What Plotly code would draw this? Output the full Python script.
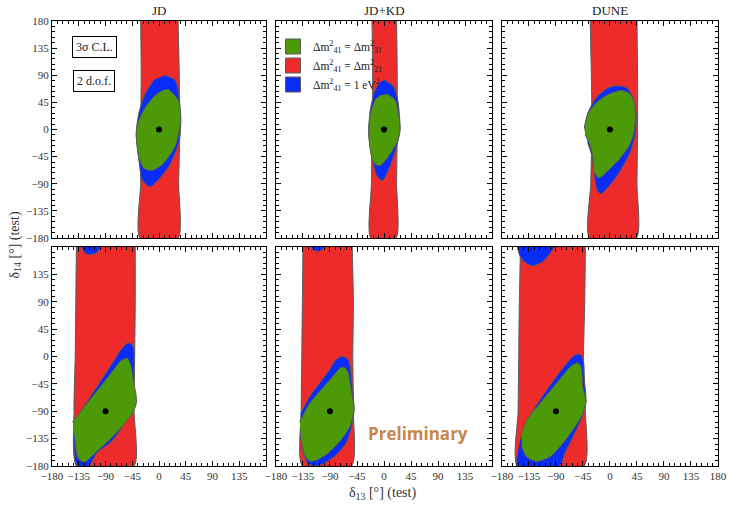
import plotly.graph_objects as go

# ---------------- data ----------------
panel_titles = ["JD", "JD+KD", "DUNE"]
tick_vals = [-180, -135, -90, -45, 0, 45, 90, 135, 180]
tick_text = ["−180", "−135", "−90", "−45", "0", "45", "90", "135", "180"]
tick_text_no_top = ["−180", "−135", "−90", "−45", "0", "45", "90", "135", " "]

legend_labels = ["Δm<sup>2</sup><sub>41</sub> = Δm<sup>2</sup><sub>31</sub>",
                 "Δm<sup>2</sup><sub>41</sub> = Δm<sup>2</sup><sub>21</sub>",
                 "Δm<sup>2</sup><sub>41</sub> = 1 eV<sup>2</sup>"]
box_labels = ["3σ C.L.", "2 d.o.f."]
watermark = "Preliminary"

true_top = (0, 0)
true_bottom = (-90, -90)

# red bands: edge x-values at these y-levels
band_y = [180, 90, 0, -90, -180]
jd_a_red_left = [-31, -30, -31, -31, -32]
jd_a_red_right = [32, 34, 35, 33, 32]
jdkd_a_red_left = [-20, -19, -20, -21, -22]
jdkd_a_red_right = [21, 22, 22, 21, 20]
dune_a_red_left = [-33, -31, -30, -32, -34]
dune_a_red_right = [45, 46, 46, 45, 44]
jd_b_red_left = [-139, -140, -141, -143, -138]
jd_b_red_right = [-40, -40, -41, -42, -42]
jdkd_b_red_left = [-135, -136, -137, -138, -136]
jdkd_b_red_right = [-53, -51, -52, -51, -54]
dune_b_red_left = [-149, -151, -152, -153, -154]
dune_b_red_right = [-41, -42, -44, -41, -43]

# ---- JD, true (0,0)
jd_a_blue_x = [10, 27, 32, 35, 36.5, 33, 16, -15, -28, -34, -38.4, -34, -23, -9]
jd_a_blue_y = [90, 82, 65.5, 38, 10, -23, -62, -95, -84, -50, -6, 27, 60, 82]
jd_a_green_x = [15.6, 32, 36.5, 26.7, 4.7, -12, -25.6, -34, -38.3, -34, -23, -6.3, 7.4]
jd_a_green_y = [67, 49, 16, -28.5, -59, -68, -64.5, -45, -6.5, 15, 37, 57, 65.5]

# ---- JD+KD, true (0,0)
jdkd_a_blue_x = [0.3, 15.6, 22.8, 26.6, 21, 10, -2.4, -11.8, -19, -25.5, -22.8, -14.5, -8]
jdkd_a_blue_y = [82.4, 71.4, 49.3, 0, -27.8, -61, -84.6, -77.5, -50, -5.8, 32.8, 65.9, 77]
jdkd_a_green_x = [4.7, 18.4, 23.9, 26.6, 21, 7.4, -6.3, -14.5, -21, -25.5, -22.8, -14.5, -6.3]
jdkd_a_green_y = [58.7, 49.3, 27.3, -3, -22.3, -44.4, -59.8, -58, -44.4, -5.8, 24.5, 49.3, 56.5]

# ---- DUNE, true (0,0)
dune_a_blue_x = [-42.6, -37, -23.4, -4, 12.4, 28.8, 39.8, 43.7, 42.6, 34.3, 15, -4, -15, -20.6, -26, -30, -37]
dune_a_blue_y = [2.5, 27, 52, 68.6, 72.5, 68.6, 49.3, 24.5, -5.8, -36, -72, -96.7, -106.7, -102, -77.5, -44.4, -22.3]
dune_a_green_x = [-42.6, -37, -23.4, -4, 17.9, 31.6, 39.8, 42.6, 39.8, 31.6, 15, -1.4, -17.9, -26, -28.8, -34.4, -41.5]
dune_a_green_y = [2.5, 24.5, 43.8, 57.6, 64.8, 60.4, 46.6, 24.5, -5.8, -27.8, -50, -66.4, -80.2, -72, -44.4, -22.3, -8.5]

# ---- JD, true (-90,-90)
jd_b_bluecap_x = [-130.4, -124.9, -116.6, -105.6, -97.3]
jd_b_bluecap_y = [180, 170, 167.4, 170, 180]
jd_b_blue_x = [-141.4, -122.1, -100, -78, -64.2, -53.2, -46, -42.2, -42.2, -39.4, -47.7, -78, -105.6, -117.7, -138.7, -143.1]
jd_b_blue_y = [-104.7, -76.1, -43.1, -10.2, 10.7, 21.7, 20.6, 10.7, -49.7, -74.5, -93.7, -137.7, -159.7, -180, -180, -137.7]
jd_b_green_x = [-145.3, -122.1, -100, -78, -64.2, -53.2, -47.7, -43.3, -37.8, -44.9, -78, -105.6, -124.9, -135.9, -141.4]
jd_b_green_y = [-107.4, -78.3, -51.4, -23.9, -6.9, -3, -14, -38.7, -74.5, -93.7, -132, -156.9, -173.4, -168, -137.7]

# ---- JD+KD, true (-90,-90)
jdkd_b_bluecap_x = [-121.4, -115.9, -107.7, -99.4]
jdkd_b_bluecap_y = [180, 174.5, 172.9, 180]
jdkd_b_blue_x = [-138.9, -124.1, -107.7, -91.2, -80.3, -72, -63.8, -58.3, -54, -50, -54, -63.8, -80.3, -99.4, -113.1, -126.8, -134, -139]
jdkd_b_blue_y = [-93.7, -66.2, -44.2, -22.3, -5.8, -0.3, -1.4, -8.5, -38.7, -88.2, -115.7, -143.2, -162.4, -175, -180, -176, -159.7, -132]
jdkd_b_green_x = [-140.5, -124.1, -107.7, -85.7, -72, -64.9, -59.4, -55.6, -50, -57.2, -72, -94, -113.1, -124.1, -132.3, -137.8]
jdkd_b_green_y = [-107.4, -77.2, -58, -33.2, -17.9, -18.4, -27.7, -49.7, -88.2, -115.7, -137.7, -159.7, -170.6, -171.7, -162.4, -137.7]

# ---- DUNE, true (-90,-90)
dune_b_bluecap_x = [-154.2, -149.8, -138.8, -127.8, -111.3, -92]
dune_b_bluecap_y = [180, 164.6, 152.5, 149.2, 156.4, 180]
dune_b_blue_x = [-149.8, -138.8, -116.8, -89.3, -67.3, -56.3, -48.1, -44.3, -42.6, -39.9, -46.4, -61.8, -75.6, -83.8, -155.3, -153.6]
dune_b_blue_y = [-137.7, -107.4, -71.7, -33.2, -5.8, 3.6, 2.5, -8.5, -38.7, -74.5, -99.2, -132.2, -159.7, -180, -180, -159.7]
dune_b_green_x = [-147, -138.8, -116.8, -89.3, -64.6, -53.6, -48.1, -45.4, -39.9, -48.1, -70.1, -100.3, -122.3, -138.8, -147]
dune_b_green_y = [-126.7, -104.7, -77.2, -44.2, -15.7, -10.2, -16.8, -49.7, -74.5, -99.2, -132.2, -165.2, -172.3, -165.2, -148.7]

# ---------------- styling ----------------
GREEN = "#4c9a08"
RED = "#ee2b2b"
BLUE = "#0a2cf8"
EDGE = "#5a5a5a"
SERIF = "Liberation Serif"

panels = [
    dict(red=(jd_a_red_left, jd_a_red_right), blue=[(jd_a_blue_x, jd_a_blue_y)],
         green=(jd_a_green_x, jd_a_green_y), dot=true_top),
    dict(red=(jdkd_a_red_left, jdkd_a_red_right), blue=[(jdkd_a_blue_x, jdkd_a_blue_y)],
         green=(jdkd_a_green_x, jdkd_a_green_y), dot=true_top),
    dict(red=(dune_a_red_left, dune_a_red_right), blue=[(dune_a_blue_x, dune_a_blue_y)],
         green=(dune_a_green_x, dune_a_green_y), dot=true_top),
    dict(red=(jd_b_red_left, jd_b_red_right),
         blue=[(jd_b_blue_x, jd_b_blue_y), (jd_b_bluecap_x, jd_b_bluecap_y)],
         green=(jd_b_green_x, jd_b_green_y), dot=true_bottom),
    dict(red=(jdkd_b_red_left, jdkd_b_red_right),
         blue=[(jdkd_b_blue_x, jdkd_b_blue_y), (jdkd_b_bluecap_x, jdkd_b_bluecap_y)],
         green=(jdkd_b_green_x, jdkd_b_green_y), dot=true_bottom),
    dict(red=(dune_b_red_left, dune_b_red_right),
         blue=[(dune_b_blue_x, dune_b_blue_y), (dune_b_bluecap_x, dune_b_bluecap_y)],
         green=(dune_b_green_x, dune_b_green_y), dot=true_bottom),
]

fig = go.Figure()

for i, p in enumerate(panels):
    ax = "" if i == 0 else str(i + 1)
    xa, ya = "x" + ax, "y" + ax
    left, right = p["red"]
    bx = list(left) + list(reversed(right))
    by = list(band_y) + list(reversed(band_y))
    fig.add_trace(go.Scatter(x=bx, y=by, fill="toself", fillcolor=RED, mode="lines",
                             line=dict(color=EDGE, width=1, shape="spline", smoothing=0.6),
                             showlegend=False, hoverinfo="skip", xaxis=xa, yaxis=ya))
    for (cx, cy) in p["blue"]:
        fig.add_trace(go.Scatter(x=cx, y=cy, fill="toself", fillcolor=BLUE, mode="lines",
                                 line=dict(color=EDGE, width=1, shape="spline", smoothing=0.7),
                                 showlegend=False, hoverinfo="skip", xaxis=xa, yaxis=ya))
    gx, gy = p["green"]
    fig.add_trace(go.Scatter(x=gx, y=gy, fill="toself", fillcolor=GREEN, mode="lines",
                             line=dict(color=EDGE, width=1, shape="spline", smoothing=0.7),
                             showlegend=False, hoverinfo="skip", xaxis=xa, yaxis=ya))
    fig.add_trace(go.Scatter(x=[p["dot"][0]], y=[p["dot"][1]], mode="markers",
                             marker=dict(color="black", size=6), showlegend=False,
                             hoverinfo="skip", xaxis=xa, yaxis=ya))

# legend entries
for lbl, col in zip(legend_labels, [GREEN, RED, BLUE]):
    fig.add_trace(go.Scatter(x=[None], y=[None], mode="markers", name=lbl,
                             marker=dict(symbol="square", size=15, color=col,
                                         line=dict(color=EDGE, width=1)),
                             xaxis="x2", yaxis="y2"))

# ---------------- layout ----------------
L, R, T, B = 52, 9, 21, 40
W, H = 736, 506
pw, ph = W - L - R, H - T - B

def fx(px):
    return (px - L) / pw

def fy(py):
    return (H - B - py) / ph

x_dom = [[fx(52), fx(269)], [fx(279), fx(498)], [fx(508), fx(727)]]
y_dom = [[fy(238), fy(21)], [fy(466), fy(247)]]

minor_vals = list(range(-180, 181, 9))
minor = dict(ticks="inside", ticklen=3, tickwidth=1, tickcolor="black",
             tickmode="array", tickvals=minor_vals, showgrid=False)

layout = dict(width=W, height=H, margin=dict(l=L, r=R, t=T, b=B),
              plot_bgcolor="white", paper_bgcolor="white",
              font=dict(family=SERIF, size=11, color="#333"),
              showlegend=True,
              legend=dict(x=fx(276), y=fy(32), xanchor="left", yanchor="top",
                          bgcolor="rgba(0,0,0,0)", font=dict(family=SERIF, size=11.5, color="#222"),
                          itemwidth=30, tracegroupgap=0))

for i in range(6):
    col, row = i % 3, i // 3
    ax = "" if i == 0 else str(i + 1)
    xt = tick_text if (row == 1 and col == 2) else tick_text_no_top
    yt = tick_text if row == 0 else tick_text_no_top
    common = dict(range=[-180, 180], showgrid=False, zeroline=False, showline=True,
                  linecolor="black", linewidth=1.3, mirror="allticks", ticks="inside",
                  ticklen=5, tickwidth=1, tickcolor="black", tickmode="array",
                  tickvals=tick_vals, tickfont=dict(family=SERIF, size=11, color="#333"),
                  minor=minor, fixedrange=True)
    layout["xaxis" + ax] = dict(domain=x_dom[col], anchor="y" + ax, ticktext=xt,
                                showticklabels=(row == 1), **common)
    layout["yaxis" + ax] = dict(domain=y_dom[row], anchor="x" + ax, ticktext=yt,
                                showticklabels=(col == 0), **common)

fig.update_layout(**layout)

ann = []
for c, t in enumerate(panel_titles):
    ann.append(dict(text=t, xref="paper", yref="paper", x=(x_dom[c][0] + x_dom[c][1]) / 2,
                    y=fy(11), xanchor="center", yanchor="middle", showarrow=False,
                    font=dict(family=SERIF, size=13, color="#222")))
for j, t in enumerate(box_labels):
    ann.append(dict(text=t, xref="x", yref="y", x=-109, y=[137, 80][j], showarrow=False,
                    xanchor="center", yanchor="middle", bordercolor="black", borderwidth=1,
                    borderpad=3, bgcolor="white", font=dict(family=SERIF, size=12, color="#222")))
ann.append(dict(text="δ<sub>13</sub> [°] (test)", xref="paper", yref="paper", x=fx(387), y=fy(493),
                xanchor="center", yanchor="middle", showarrow=False,
                font=dict(family=SERIF, size=14, color="#333")))
ann.append(dict(text="δ<sub>14</sub> [°] (test)", xref="paper", yref="paper", x=fx(14), y=fy(245),
                xanchor="center", yanchor="middle", showarrow=False, textangle=-90,
                font=dict(family=SERIF, size=14, color="#333")))
ann.append(dict(text="<b>" + watermark + "</b>", xref="x5", yref="y5", x=57, y=-126,
                xanchor="center", yanchor="middle", showarrow=False,
                font=dict(family="Open Sans", size=17, color="#c8874a")))
fig.update_layout(annotations=ann)

fig.write_html("out.html", post_script="document.body.style.margin='0';",
               config={"displayModeBar": False})
